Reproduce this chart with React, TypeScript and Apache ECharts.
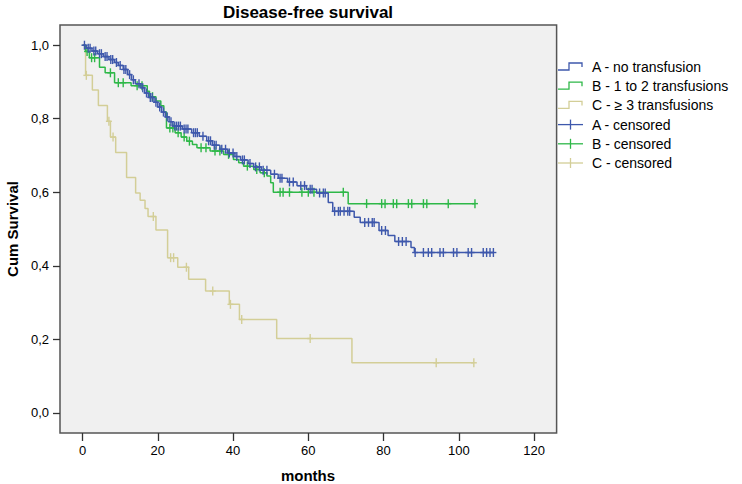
import React, { useEffect, useRef } from "react";
import * as echarts from "echarts";

// ---- data ----
const X_TICKS = [0, 20, 40, 60, 80, 100, 120];
const Y_TICKS = [0, 0.2, 0.4, 0.6, 0.8, 1.0];

const SERIES_NAMES = ["A - no transfusion", "B - 1 to 2 transfusions", "C - \u2265 3 transfusions"];
const CENSOR_NAMES = ["A - censored", "B - censored", "C - censored"];

// A: event times / survival after event
const A_T = [0, 1.0, 2.5, 4.0, 5.5, 7.0, 8.5, 9.5, 10.8, 12.0, 13.0, 14.0, 15.5, 16.5, 17.5, 19.0, 20.0, 21.0, 22.0, 23.0, 24.0, 26.5, 29.0, 31.0, 33.0, 34.5, 36.5, 38.5, 40.5, 42.0, 44.0, 45.5, 47.5, 50.0, 52.0, 54.5, 57.0, 59.5, 62.2, 65.3, 66.5, 72.2, 73.8, 78.8, 81.2, 83.0, 87.3, 88.2];
const A_S = [1.0, 0.992, 0.984, 0.977, 0.969, 0.961, 0.953, 0.945, 0.934, 0.92, 0.906, 0.895, 0.884, 0.87, 0.858, 0.845, 0.832, 0.818, 0.805, 0.792, 0.78, 0.772, 0.762, 0.752, 0.74, 0.728, 0.717, 0.707, 0.697, 0.688, 0.678, 0.669, 0.66, 0.649, 0.638, 0.628, 0.618, 0.608, 0.598, 0.572, 0.548, 0.532, 0.518, 0.496, 0.482, 0.466, 0.45, 0.436];
const A_END = 109.2;
const A_CENS = [0.5, 1.5, 2.0, 3.0, 3.5, 4.5, 5.0, 6.0, 6.5, 7.5, 8.0, 9.0, 10.0, 11.0, 11.5, 12.5, 13.5, 15.0, 16.0, 17.0, 18.0, 18.5, 19.5, 20.5, 21.5, 22.5, 23.5, 24.5, 25.0, 25.5, 26.0, 27.0, 27.5, 28.0, 29.5, 30.0, 30.5, 32.0, 33.5, 34.0, 35.0, 35.5, 37.0, 38.0, 39.0, 40.0, 41.0, 42.5, 43.0, 44.5, 46.0, 47.0, 48.0, 49.0, 51.0, 52.5, 53.0, 55.0, 56.0, 58.0, 59.0, 60.5, 61.0, 63.0, 64.0, 64.5, 67.0, 68.0, 68.5, 69.5, 70.5, 71.0, 75.0, 76.0, 77.0, 77.5, 79.5, 80.5, 84.0, 85.0, 86.0, 88.4, 90.6, 91.9, 92.8, 95.0, 95.9, 98.6, 99.5, 102.5, 103.4, 106.5, 107.4, 108.3, 109.2];

// B
const B_T = [0, 0.8, 1.8, 4.5, 6.0, 8.5, 12.9, 17.2, 17.8, 19.5, 20.8, 21.6, 22.3, 24.6, 26.2, 27.7, 29.2, 30.4, 33.9, 37.5, 40.1, 41.5, 42.8, 45.5, 47.2, 49.0, 50.0, 50.7, 70.6];
const B_S = [1.0, 0.983, 0.966, 0.94, 0.925, 0.898, 0.89, 0.875, 0.86, 0.848, 0.835, 0.818, 0.775, 0.762, 0.75, 0.739, 0.73, 0.721, 0.712, 0.703, 0.689, 0.68, 0.671, 0.662, 0.653, 0.644, 0.626, 0.6, 0.569];
const B_END = 104.3;
const B_CENS = [1.2, 2.4, 3.2, 7.4, 9.5, 10.8, 14.5, 15.8, 18.6, 23.2, 24.0, 25.4, 27.0, 28.4, 31.5, 32.8, 35.2, 36.5, 38.8, 43.8, 46.3, 48.3, 52.5, 53.3, 55.0, 58.3, 60.0, 61.5, 69.3, 75.5, 79.5, 80.4, 82.6, 83.5, 86.6, 87.5, 90.6, 91.5, 97.2, 104.3];

// C
const C_T = [0, 0.8, 2.6, 4.2, 6.6, 7.4, 8.8, 11.7, 14.1, 15.3, 16.6, 17.4, 19.5, 22.6, 25.3, 28.2, 32.7, 39.0, 41.7, 51.6, 71.6];
const C_S = [1.0, 0.918, 0.878, 0.836, 0.793, 0.75, 0.708, 0.64, 0.598, 0.578, 0.556, 0.534, 0.497, 0.422, 0.396, 0.363, 0.331, 0.295, 0.254, 0.202, 0.136];
const C_END = 104.0;
const C_CENS = [1.0, 7.0, 8.1, 18.8, 23.4, 24.2, 27.6, 34.6, 39.3, 42.3, 60.5, 94.0, 104.0];

const COLORS = ["#3E58AC", "#2EB848", "#D3CE97"];

function stepLine(T: number[], S: number[], end: number) {
  const d = T.map((t, i) => [t, S[i]]);
  d.push([end, S[S.length - 1]]);
  return d;
}
function survAt(T: number[], S: number[], t: number) {
  let v = S[0];
  for (let i = 0; i < T.length; i++) if (T[i] <= t) v = S[i];
  return v;
}
function censData(T: number[], S: number[], C: number[]) {
  return C.map((t) => [t, survAt(T, S, t)]);
}

export default function App() {
  const ref = useRef<HTMLDivElement>(null);
  useEffect(() => {
    if (!ref.current) return;
    const chart = echarts.init(ref.current, null, { renderer: "svg" });
    const font = "'Liberation Sans', Arial, sans-serif";

    const lineSeries = (name: string, data: number[][], color: string, z: number) => ({
      type: "line",
      name,
      data,
      step: "end",
      showSymbol: false,
      symbol: "none",
      lineStyle: { color, width: 1.5 },
      z,
      silent: true,
    });
    const censSeries = (name: string, data: number[][], color: string, z: number) => ({
      type: "custom",
      name,
      data,
      z,
      silent: true,
      renderItem: (params: any, api: any) => {
        const p = api.coord([api.value(0), api.value(1)]);
        return {
          type: "group",
          children: [
            { type: "line", shape: { x1: p[0], y1: p[1] - 4.5, x2: p[0], y2: p[1] + 4.5 }, style: { stroke: color, lineWidth: 1.4 } },
            { type: "line", shape: { x1: p[0] - 3, y1: p[1], x2: p[0] + 3, y2: p[1] }, style: { stroke: color, lineWidth: 1.4 } },
          ],
        };
      },
    });

    const legendChildren: any[] = [];
    const legendNames = [...SERIES_NAMES, ...CENSOR_NAMES];
    legendNames.forEach((nm, i) => {
      const y = 67 + i * 19.2;
      const color = COLORS[i % 3];
      if (i < 3) {
        legendChildren.push({
          type: "polyline",
          shape: { points: [[558, y + 3], [569, y + 3], [569, y - 4], [582, y - 4], [582, y]] },
          style: { stroke: color, lineWidth: 1.3, fill: "none" },
        });
      } else {
        legendChildren.push({ type: "line", shape: { x1: 558, y1: y, x2: 583, y2: y }, style: { stroke: color, lineWidth: 1.3 } });
        legendChildren.push({ type: "line", shape: { x1: 570.5, y1: y - 5, x2: 570.5, y2: y + 5 }, style: { stroke: color, lineWidth: 1.3 } });
      }
      legendChildren.push({
        type: "text",
        x: 592,
        y,
        style: { text: nm, fill: "#000", font: `14px ${font}`, verticalAlign: "middle", align: "left" },
      });
    });

    chart.setOption({
      animation: false,
      backgroundColor: "#ffffff",
      grid: {
        left: 60,
        right: 185.4,
        top: 25,
        bottom: 51,
        show: true,
        backgroundColor: "#F0F0F0",
        borderColor: "#555555",
        borderWidth: 1.5,
      },
      xAxis: {
        type: "value",
        min: -6,
        max: 126,
        axisLine: { show: false, onZero: false },
        splitLine: { show: false },
        axisTick: { show: true, length: 8, lineStyle: { color: "#333", width: 1.3 }, customValues: X_TICKS },
        axisLabel: {
          customValues: X_TICKS,
          color: "#000",
          fontSize: 13,
          fontFamily: font,
          margin: 11,
        },
      },
      yAxis: {
        type: "value",
        min: -0.055,
        max: 1.055,
        axisLine: { show: false, onZero: false },
        splitLine: { show: false },
        axisTick: { show: true, length: 7, lineStyle: { color: "#333", width: 1.3 }, customValues: Y_TICKS },
        axisLabel: {
          customValues: Y_TICKS,
          color: "#000",
          fontSize: 13,
          fontFamily: font,
          margin: 11,
          formatter: (v: number) => v.toFixed(1).replace(".", ","),
        },
      },
      graphic: [
        {
          type: "text",
          x: 308,
          y: 12,
          style: { text: "Disease-free survival", fill: "#000", font: `bold 17px ${font}`, align: "center", verticalAlign: "middle" },
        },
        {
          type: "text",
          x: 12,
          y: 229,
          rotation: Math.PI / 2,
          style: { text: "Cum Survival", fill: "#000", font: `bold 15px ${font}`, align: "center", verticalAlign: "middle" },
        },
        {
          type: "text",
          x: 308,
          y: 475,
          style: { text: "months", fill: "#000", font: `bold 15px ${font}`, align: "center", verticalAlign: "middle" },
        },
        { type: "group", children: legendChildren },
      ],
      series: [
        lineSeries(SERIES_NAMES[2], stepLine(C_T, C_S, C_END), COLORS[2], 2),
        censSeries(CENSOR_NAMES[2], censData(C_T, C_S, C_CENS), COLORS[2], 2),
        lineSeries(SERIES_NAMES[1], stepLine(B_T, B_S, B_END), COLORS[1], 3),
        censSeries(CENSOR_NAMES[1], censData(B_T, B_S, B_CENS), COLORS[1], 3),
        lineSeries(SERIES_NAMES[0], stepLine(A_T, A_S, A_END), COLORS[0], 4),
        censSeries(CENSOR_NAMES[0], censData(A_T, A_S, A_CENS), COLORS[0], 4),
      ],
    });
    return () => chart.dispose();
  }, []);
  return <div ref={ref} style={{ position: "fixed", left: 0, top: 0, width: 742, height: 484 }} />;
}
